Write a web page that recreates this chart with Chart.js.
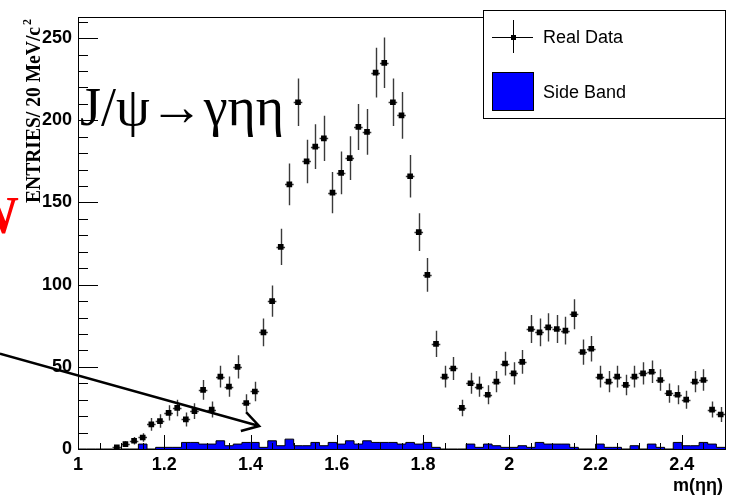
<!DOCTYPE html>
<html>
<head>
<meta charset="utf-8">
<script src="https://cdn.jsdelivr.net/npm/chart.js@4.4.1/dist/chart.umd.min.js"></script>
<style>
  html, body { margin: 0; padding: 0; background: #fff; }
  #wrap { width: 731px; height: 497px; }
</style>
</head>
<body>
<div id="wrap"><canvas id="massChart" width="731" height="497"></canvas></div>
<script>
// 20 MeV bins from 1.00 to 2.50 GeV
const binStart = 1.0;
const binWidth = 0.02;

// entries per bin
const realData = [
  0, 0, 0, 0, 1, 3, 5, 7, 15, 17,
  22, 25, 18, 23, 36, 24, 44, 38, 50, 28,
  35, 71, 90, 123, 161, 211, 175, 184, 189, 156,
  168, 177, 196, 193, 229, 235, 211, 203, 166, 132,
  106, 64, 44, 49, 25, 40, 38, 33, 41, 52,
  46, 53, 73, 71, 74, 73, 72, 82, 59, 61,
  44, 41, 44, 39, 44, 46, 47, 42, 34, 33,
  30, 41, 42, 24, 21
];
const sideBand = [
  0, 0, 0, 0, 0, 0, 0, 3, 0, 1,
  1, 1, 4, 4, 3, 3, 5, 2, 3, 4,
  4, 1, 5, 2, 6, 2, 2, 4, 2, 4,
  3, 5, 3, 5, 4, 4, 4, 3, 4, 3,
  4, 1, 0, 0, 0, 3, 1, 3, 2, 1,
  1, 2, 1, 4, 3, 3, 3, 1, 0, 0,
  3, 1, 1, 0, 2, 0, 3, 1, 0, 4,
  2, 2, 4, 3, 1
];

const xTickValues = [1, 1.2, 1.4, 1.6, 1.8, 2, 2.2, 2.4];
const yTickValues = [0, 50, 100, 150, 200, 250];
const legendLabels = ['Real Data', 'Side Band'];
const yTitle = 'ENTRIES/ 20 MeV/c';
const xTitle = 'm(ηη)';
const decayText = 'J/ψ→γηη';

const xMin = 1.0, xMax = 2.5, yMax = 263;

const binCenters = realData.map((v, i) => +(binStart + binWidth * (i + 0.5)).toFixed(2));
const binEdges = sideBand.map((v, i) => +(binStart + binWidth * i).toFixed(2));

const realPoints = realData.map((v, i) => ({ x: binCenters[i], y: v }));
const sidePoints = sideBand.map((v, i) => ({ x: binEdges[i], y: v }));
sidePoints.push({ x: xMax, y: sideBand[sideBand.length - 1] });

const sansBold = 'bold 18px "Liberation Sans", Arial, sans-serif';

// error bars: sqrt(N) vertical, bin width horizontal
const errorBars = {
  id: 'errorBars',
  beforeDatasetDraw(chart, args) {
    if (args.index !== 0) return;
    const ctx = chart.ctx, xs = chart.scales.x, ys = chart.scales.y;
    ctx.save();
    ctx.strokeStyle = '#3a3a3a';
    ctx.lineWidth = 1.4;
    realData.forEach((v, i) => {
      if (v <= 0) return;
      const e = Math.sqrt(v);
      const px = Math.round(xs.getPixelForValue(binCenters[i])) + 0.5;
      const py = Math.round(ys.getPixelForValue(v)) + 0.5;
      ctx.beginPath();
      ctx.moveTo(px, ys.getPixelForValue(v - e));
      ctx.lineTo(px, ys.getPixelForValue(Math.min(v + e, yMax)));
      ctx.moveTo(xs.getPixelForValue(binCenters[i] - binWidth / 2), py);
      ctx.lineTo(xs.getPixelForValue(binCenters[i] + binWidth / 2), py);
      ctx.stroke();
    });
    ctx.restore();
  }
};

// ROOT-style frame with inward ticks, titles, legend and slide annotations
const decorations = {
  id: 'decorations',
  afterDraw(chart) {
    const ctx = chart.ctx, xs = chart.scales.x, ys = chart.scales.y;
    const a = chart.chartArea;
    ctx.save();

    // ticks
    ctx.strokeStyle = '#000';
    ctx.lineWidth = 1;
    ctx.beginPath();
    for (let v = 0; v <= yMax; v += 10) {
      const py = Math.round(ys.getPixelForValue(v)) + 0.5;
      ctx.moveTo(a.left, py);
      ctx.lineTo(a.left + (v % 50 === 0 ? 20 : 10), py);
    }
    for (let k = 0; k <= 30; k++) {
      const v = xMin + k * 0.05;
      const px = Math.round(xs.getPixelForValue(v)) + 0.5;
      ctx.moveTo(px, a.bottom);
      ctx.lineTo(px, a.bottom - (k % 4 === 0 ? 14 : 6));
    }
    ctx.stroke();

    // frame
    ctx.strokeRect(Math.round(a.left) + 0.5, Math.round(a.top) + 0.5,
      Math.round(a.right - a.left), Math.round(a.bottom - a.top));

    // legend
    const lx = 483, ly = 10, lw = a.right - 483, lh = 108;
    ctx.fillStyle = '#fff';
    ctx.fillRect(lx, ly, lw, lh);
    ctx.strokeRect(lx + 0.5, ly + 0.5, lw, lh);
    ctx.beginPath();
    ctx.moveTo(492, 37.5); ctx.lineTo(533, 37.5);
    ctx.moveTo(513.5, 20); ctx.lineTo(513.5, 53);
    ctx.stroke();
    ctx.fillStyle = '#000';
    ctx.fillRect(511, 35, 5, 5);
    ctx.fillStyle = '#0000ff';
    ctx.fillRect(492, 72, 42, 39);
    ctx.strokeRect(492.5, 72.5, 41, 38);
    ctx.fillStyle = '#000';
    ctx.font = '18px "Liberation Sans", Arial, sans-serif';
    ctx.textBaseline = 'middle';
    ctx.textAlign = 'left';
    ctx.fillText(legendLabels[0], 543, 38);
    ctx.fillText(legendLabels[1], 543, 93);

    // x title
    ctx.font = sansBold;
    ctx.textAlign = 'right';
    ctx.textBaseline = 'alphabetic';
    ctx.fillText(xTitle, 723, 491);

    // y title, rotated
    ctx.save();
    ctx.translate(40, 203);
    ctx.rotate(-Math.PI / 2);
    ctx.font = 'bold 20px "Liberation Serif", "Times New Roman", serif';
    const tw = ctx.measureText(yTitle).width;
    ctx.save();
    ctx.scale(176 / tw, 1);
    ctx.textAlign = 'left';
    ctx.fillText(yTitle, 0, 0);
    ctx.restore();
    ctx.font = 'bold 12px "Liberation Serif", "Times New Roman", serif';
    ctx.fillText('2', 184, -9);
    ctx.restore();

    // decay label
    ctx.font = '55px "Liberation Serif", "DejaVu Serif", serif';
    const dw = ctx.measureText(decayText).width;
    ctx.save();
    ctx.translate(80, 125);
    ctx.scale(204 / dw, 1);
    ctx.textAlign = 'left';
    ctx.fillText(decayText, 0, 0);
    ctx.restore();

    // red letter cut at the slide edge
    ctx.fillStyle = '#ff0000';
    ctx.font = 'bold 52px "Liberation Serif", "Times New Roman", serif';
    ctx.textAlign = 'right';
    ctx.fillText('W', 19, 233);

    // arrow pointing to the low-mass region
    const x0 = xs.getPixelForValue(0.819), y0 = ys.getPixelForValue(58);
    const x1 = xs.getPixelForValue(1.42), y1 = ys.getPixelForValue(14);
    const ang = Math.atan2(y0 - y1, x0 - x1);
    ctx.strokeStyle = '#000';
    ctx.lineWidth = 2.5;
    ctx.beginPath();
    ctx.moveTo(x0, y0); ctx.lineTo(x1, y1);
    ctx.moveTo(x1 + 19 * Math.cos(ang + 0.54), y1 + 19 * Math.sin(ang + 0.54));
    ctx.lineTo(x1, y1);
    ctx.lineTo(x1 + 19 * Math.cos(ang - 0.54), y1 + 19 * Math.sin(ang - 0.54));
    ctx.stroke();

    ctx.restore();
  }
};

new Chart(document.getElementById('massChart'), {
  type: 'line',
  data: {
    datasets: [{
      label: legendLabels[0],
      data: realPoints,
      order: 1,
      showLine: false,
      pointStyle: 'rect',
      pointRadius: ctx => (ctx.raw && ctx.raw.y > 0 ? 4 : 0),
      pointBackgroundColor: '#000',
      pointBorderWidth: 0
    }, {
      label: legendLabels[1],
      data: sidePoints,
      order: 2,
      stepped: 'before',
      borderColor: '#000',
      borderWidth: 1,
      backgroundColor: '#0000ff',
      fill: 'origin',
      pointRadius: 0
    }]
  },
  options: {
    responsive: false,
    animation: false,
    devicePixelRatio: 1,
    layout: { padding: { top: 10, right: 6, left: 0, bottom: 0 } },
    plugins: {
      legend: { display: false },
      title: { display: false },
      tooltip: { enabled: false }
    },
    scales: {
      x: {
        type: 'linear',
        min: xMin,
        max: xMax,
        grid: { display: false, drawTicks: false },
        border: { display: false },
        afterBuildTicks: s => { s.ticks = xTickValues.map(v => ({ value: v })); },
        afterFit: s => { s.height = 48; },
        ticks: {
          padding: 5,
          color: '#000',
          font: { family: '"Liberation Sans", Arial, sans-serif', size: 18, weight: 'bold' },
          maxRotation: 0,
          callback: v => String(v)
        }
      },
      y: {
        min: 0,
        max: yMax,
        grid: { display: false, drawTicks: false },
        border: { display: false },
        afterBuildTicks: s => { s.ticks = yTickValues.map(v => ({ value: v })); },
        afterFit: s => { s.width = 78; },
        ticks: {
          padding: 6,
          color: '#000',
          font: { family: '"Liberation Sans", Arial, sans-serif', size: 18, weight: 'bold' },
          callback: v => String(v)
        }
      }
    }
  },
  plugins: [errorBars, decorations]
});
</script>
</body>
</html>
